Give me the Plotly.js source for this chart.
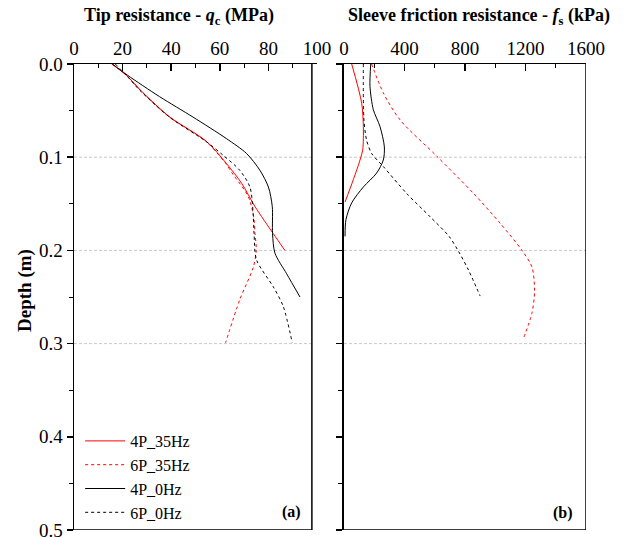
<!DOCTYPE html>
<html>
<head>
<meta charset="utf-8">
<script src="https://cdn.plot.ly/plotly-3.0.1.min.js"></script>
<style>html,body{margin:0;padding:0;background:#fff;}#chart{width:628px;height:537px;}</style>
</head>
<body>
<div id="chart"></div>
<script>
// ---- Data ----
const seriesNames = ["4P_35Hz", "6P_35Hz", "4P_0Hz", "6P_0Hz"];

// Tip resistance qc (MPa) vs depth (m)
const qc_4P35_depth = [0, 0.012, 0.031, 0.057, 0.083, 0.107, 0.128, 0.153, 0.182, 0.2];
const qc_4P35_val   = [15.5, 21.5, 28.5, 39.5, 54.5, 62.8, 69, 74.5, 82, 86.8];

const qc_6P35_depth = [0, 0.012, 0.031, 0.057, 0.083, 0.107, 0.119, 0.137, 0.146, 0.165, 0.182, 0.2, 0.218, 0.253, 0.299];
const qc_6P35_val   = [15.8, 21.5, 28.3, 39.3, 54.3, 62.5, 65.6, 70.6, 72.3, 74, 74.5, 75, 73.8, 68.2, 62.4];

const qc_4P0_depth  = [0, 0.012, 0.035, 0.057, 0.08, 0.096, 0.114, 0.132, 0.153, 0.182, 0.203, 0.225, 0.25];
const qc_4P0_val    = [15.8, 22, 35.2, 49, 62.7, 71, 76.5, 80, 81.6, 81.7, 82.7, 87.5, 93];

const qc_6P0_depth  = [0, 0.012, 0.028, 0.057, 0.083, 0.098, 0.114, 0.132, 0.16, 0.182, 0.21, 0.239, 0.26, 0.299];
const qc_6P0_val    = [17, 21.5, 27, 39.3, 54.3, 61.4, 68.2, 72.4, 73.7, 74.1, 75.1, 82, 86.1, 89.8];

// Sleeve friction fs (kPa) vs depth (m)
const fs_4P35_depth = [0, 0.042, 0.067, 0.092, 0.103, 0.124, 0.148];
const fs_4P35_val   = [51, 117, 128, 124, 106, 62, 7];

const fs_6P35_depth = [0, 0.031, 0.06, 0.099, 0.139, 0.171, 0.2, 0.218, 0.243, 0.267, 0.296];
const fs_6P35_val   = [183, 260, 371, 614, 857, 1033, 1177, 1243, 1260, 1243, 1183];

const fs_4P0_depth  = [0, 0.024, 0.049, 0.067, 0.089, 0.103, 0.117, 0.132, 0.149, 0.167, 0.185];
const fs_4P0_val    = [177, 172, 194, 238, 267, 260, 216, 128, 51, 13, 7];

const fs_6P0_depth  = [0, 0.06, 0.082, 0.096, 0.11, 0.139, 0.164, 0.185, 0.201, 0.221, 0.249];
const fs_6P0_val    = [128, 132, 150, 183, 260, 415, 570, 695, 757, 823, 900];

const qcTicks = [0, 20, 40, 60, 80, 100];
const fsTicks = [0, 400, 800, 1200, 1600];
const depthTicks = [0.0, 0.1, 0.2, 0.3, 0.4, 0.5];
const gridDepths = [0.1, 0.2, 0.3];

// ---- Styles ----
const styles = [
  {color: "#ff0000", dash: "solid"},
  {color: "#ff0000", dash: "3px,3px"},
  {color: "#000000", dash: "solid"},
  {color: "#000000", dash: "3px,3px"}
];

const leftData = [[qc_4P35_val, qc_4P35_depth], [qc_6P35_val, qc_6P35_depth], [qc_4P0_val, qc_4P0_depth], [qc_6P0_val, qc_6P0_depth]];
const rightData = [[fs_4P35_val, fs_4P35_depth], [fs_6P35_val, fs_6P35_depth], [fs_4P0_val, fs_4P0_depth], [fs_6P0_val, fs_6P0_depth]];

const traces = [];
leftData.forEach((d, i) => {
  traces.push({x: d[0], y: d[1], xaxis: "x", yaxis: "y", type: "scatter", mode: "lines",
    name: seriesNames[i], line: {color: styles[i].color, dash: styles[i].dash, width: 1, shape: "spline", smoothing: 0.8}});
});
rightData.forEach((d, i) => {
  traces.push({x: d[0], y: d[1], xaxis: "x2", yaxis: "y2", type: "scatter", mode: "lines",
    name: seriesNames[i], showlegend: false, line: {color: styles[i].color, dash: styles[i].dash, width: 1, shape: "spline", smoothing: 0.8}});
});

const FONT = "Liberation Serif, Times New Roman, serif";
const tickFont = {family: FONT, size: 19, color: "#000"};

const xCommon = {
  side: "top", showline: true, linecolor: "#000", linewidth: 1.5,
  ticks: "inside", ticklen: 7, tickwidth: 1.5, tickcolor: "#000",
  minor: {ticks: "inside", ticklen: 4, tickwidth: 1, tickcolor: "#000"},
  showgrid: false, zeroline: false, tickfont: tickFont, fixedrange: true, automargin: false,
  ticklabeloverflow: "allow"
};
const yCommon = {
  range: [0.5, 0], showline: true, linecolor: "#000", linewidth: 1.5,
  ticks: "outside", ticklen: 6, tickwidth: 1.5, tickcolor: "#000",
  tickvals: depthTicks,
  minor: {ticks: "outside", ticklen: 4, tickwidth: 1, tickcolor: "#000", dtick: 0.05},
  showgrid: false, zeroline: false, tickfont: tickFont, fixedrange: true, automargin: false,
  ticklabeloverflow: "allow"
};

const shapes = [];
// gridlines
gridDepths.forEach(g => {
  shapes.push({type: "line", xref: "x", yref: "y", x0: 0, x1: 97.9, y0: g, y1: g, line: {color: "#c8c8c8", width: 1, dash: "3px,2px"}, layer: "below"});
  shapes.push({type: "line", xref: "x2", yref: "y2", x0: 0, x1: 1780, y0: g, y1: g, line: {color: "#c8c8c8", width: 1, dash: "3px,2px"}, layer: "below"});
});
// frame borders
shapes.push({type: "line", xref: "x", yref: "y", x0: 97.9, x1: 97.9, y0: 0, y1: 0.5, line: {color: "#000", width: 1.5}});
shapes.push({type: "line", xref: "x", yref: "y", x0: 0, x1: 97.9, y0: 0.5, y1: 0.5, line: {color: "#000", width: 1.5}});
shapes.push({type: "line", xref: "x2", yref: "y2", x0: 1600, x1: 1600, y0: 0, y1: 0.5, line: {color: "#000", width: 1.5}});
shapes.push({type: "line", xref: "x2", yref: "y2", x0: 0, x1: 1600, y0: 0.5, y1: 0.5, line: {color: "#000", width: 1.5}});

const layout = {
  width: 628, height: 537,
  margin: {l: 74, r: 42, t: 64, b: 7, autoexpand: false},
  paper_bgcolor: "#fff", plot_bgcolor: "rgba(0,0,0,0)",
  font: {family: FONT, color: "#000"},
  showlegend: true,
  xaxis: Object.assign({}, xCommon, {domain: [0, 0.4746], range: [0, 100], tickvals: qcTicks, minor: Object.assign({}, xCommon.minor, {dtick: 10}), anchor: "y"}),
  yaxis: Object.assign({}, yCommon, {anchor: "x", tickformat: ".1f"}),
  xaxis2: Object.assign({}, xCommon, {domain: [0.5273, 1], range: [0, 1600], tickvals: fsTicks, minor: Object.assign({}, xCommon.minor, {dtick: 200}), anchor: "y2"}),
  yaxis2: Object.assign({}, yCommon, {anchor: "x2", showticklabels: false}),
  shapes: shapes,
  legend: {x: 0.012, y: 0.0, xanchor: "left", yanchor: "bottom", bgcolor: "rgba(0,0,0,0)", borderwidth: 0,
    font: {family: FONT, size: 16, color: "#000"}, tracegroupgap: 0, itemwidth: 40},
  annotations: [
    {xref: "paper", yref: "paper", x: 0.205, y: 1.101, text: "<b>Tip resistance - <i>q</i><sub>c</sub> (MPa)</b>", showarrow: false, font: {family: FONT, size: 18}, xanchor: "center", yanchor: "middle"},
    {xref: "paper", yref: "paper", x: 0.791, y: 1.101, text: "<b>Sleeve friction resistance - <i>f</i><sub>s</sub> (kPa)</b>", showarrow: false, font: {family: FONT, size: 18}, xanchor: "center", yanchor: "middle"},
    {xref: "paper", yref: "paper", x: -0.0957, y: 0.513, text: "<b>Depth (m)</b>", textangle: -90, showarrow: false, font: {family: FONT, size: 19}, xanchor: "center", yanchor: "middle"},
    {xref: "x", yref: "y", x: 89.5, y: 0.481, text: "<b>(a)</b>", showarrow: false, font: {family: FONT, size: 16}},
    {xref: "x2", yref: "y2", x: 1450, y: 0.482, text: "<b>(b)</b>", showarrow: false, font: {family: FONT, size: 16}}
  ]
};

Plotly.newPlot("chart", traces, layout, {displayModeBar: false, staticPlot: true});
</script>
</body>
</html>
